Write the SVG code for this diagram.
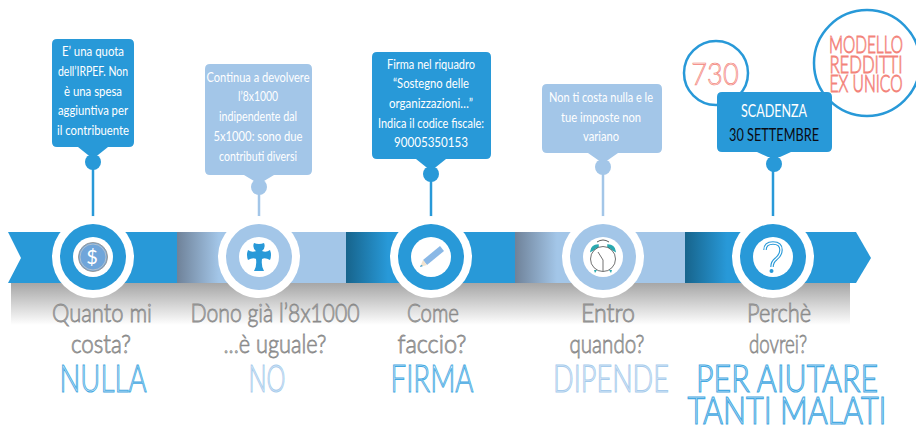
<svg xmlns="http://www.w3.org/2000/svg" width="916" height="426" viewBox="0 0 916 426">
<style>
.c{font-family:"Lato","Open Sans",sans-serif;font-size:14px;text-anchor:middle;fill:#fff}
.q{font-family:"Lato","Open Sans",sans-serif;font-size:25px;font-weight:300;text-anchor:middle;fill:#c4c4c4;stroke:#8a8a8a;stroke-width:.8}
.a{font-family:"Lato","Open Sans",sans-serif;font-size:37px;font-weight:300;text-anchor:middle;fill:#d5ecfa;stroke:#45a9e2;stroke-width:1}
.a2{font-family:"Lato","Open Sans",sans-serif;font-size:29px;font-weight:300;text-anchor:middle;fill:#d5ecfa;stroke:#45a9e2;stroke-width:.9}
.l{fill:#e6f0fa;stroke:#a6cbec}
.r{font-family:"Lato","Open Sans",sans-serif;font-weight:300;text-anchor:middle;fill:#fde3df;stroke:#f3837a;stroke-width:.7}
.o{fill:#fff}.b{fill:#2899d8}.p{fill:#a3c6e8}
</style>
<defs>
<linearGradient id="sh" x1="0" y1="0" x2="0" y2="1"><stop offset="0" stop-color="#a6a6a6"/><stop offset="1" stop-color="#fff"/></linearGradient>
<linearGradient id="gp" x1="0" y1="0" x2="1" y2="0"><stop offset="0" stop-color="#6f8299"/><stop offset=".7" stop-color="#a3c6e8"/></linearGradient>
<linearGradient id="gb" x1="0" y1="0" x2="1" y2="0"><stop offset="0" stop-color="#17648c"/><stop offset=".7" stop-color="#2899d8"/></linearGradient>
</defs>
<rect x="11" y="283" width="839" height="42" fill="url(#sh)"/>
<g id="band">
<path class="b" d="M8 232H177V283H8L21 258Z"/>
<rect x="177" y="232" width="169" height="51" class="p"/>
<rect x="177" y="232" width="60" height="51" fill="url(#gp)"/>
<rect x="346" y="232" width="169" height="51" class="b"/>
<rect x="346" y="232" width="60" height="51" fill="url(#gb)"/>
<rect x="515" y="232" width="170" height="51" class="p"/>
<rect x="515" y="232" width="60" height="51" fill="url(#gp)"/>
<path class="b" d="M685 232H856L871 258L856 283H685Z"/>
<rect x="685" y="232" width="60" height="51" fill="url(#gb)"/>
</g>
<g id="connectors" stroke-width="2.5" fill="none">
<path d="M93 162V225" stroke="#2899d8"/>
<path d="M259 187V225" stroke="#a3c6e8"/>
<path d="M431 174V225" stroke="#2899d8"/>
<path d="M603 167V225" stroke="#a3c6e8"/>
<path d="M773 164V225" stroke="#2899d8"/>
</g>
<g id="badge-730"><circle cx="716" cy="73" r="32" fill="#fff" stroke="#2899d8" stroke-width="2.5"/><text class="r" transform="translate(715 85) scale(.85 1)" font-size="32">730</text></g>
<g id="badge-modello"><circle cx="867" cy="63" r="53" fill="#fff" stroke="#2899d8" stroke-width="2.5"/>
<text class="r" transform="translate(866 53) scale(1 1.35)" font-size="17" textLength="74" lengthAdjust="spacingAndGlyphs">MODELLO</text>
<text class="r" transform="translate(866 73) scale(1 1.35)" font-size="17" textLength="73" lengthAdjust="spacingAndGlyphs">REDDITTI</text>
<text class="r" transform="translate(866 92) scale(1 1.35)" font-size="17" textLength="73" lengthAdjust="spacingAndGlyphs">EX UNICO</text></g>
<g id="node-1">
<path class="b" d="M57 39H129Q134 39 134 44V142Q134 147 129 147H108L98 155H88L78 147H57Q52 147 52 142V44Q52 39 57 39Z"/><circle class="b" cx="93" cy="162" r="8"/>
<text class="c" x="93" y="56" textLength="62" lengthAdjust="spacingAndGlyphs">E’ una quota</text>
<text class="c" x="93" y="76" textLength="70" lengthAdjust="spacingAndGlyphs">dell’IRPEF. Non</text>
<text class="c" x="93" y="96" textLength="58" lengthAdjust="spacingAndGlyphs">è una spesa</text>
<text class="c" x="93" y="115" textLength="70" lengthAdjust="spacingAndGlyphs">aggiuntiva per</text>
<text class="c" x="93" y="135" textLength="72" lengthAdjust="spacingAndGlyphs">il contribuente</text>
<circle cx="93" cy="257" r="41" class="o"/><circle cx="93" cy="257" r="33" class="b"/><circle cx="93" cy="257" r="20" class="o"/>
<circle cx="93" cy="257" r="14.500" fill="#6fa5da" stroke="#999"/><circle cx="93" cy="257" r="13" fill="none" stroke="#ccc" stroke-width=".7"/>
<text x="92" y="264" font-family="Lato,sans-serif" font-size="20" text-anchor="middle" fill="#fff">$</text>
</g>
<g id="node-2">
<path class="p" d="M210 64H307Q312 64 312 69V170Q312 175 307 175H274L264 181H254L244 175H210Q205 175 205 170V69Q205 64 210 64Z"/><circle class="p" cx="259" cy="187" r="8"/>
<text class="c" x="258" y="82" textLength="103" lengthAdjust="spacingAndGlyphs">Continua a devolvere</text>
<text class="c" x="258" y="101" textLength="40" lengthAdjust="spacingAndGlyphs">l’8x1000</text>
<text class="c" x="258" y="121" textLength="78" lengthAdjust="spacingAndGlyphs">indipendente dal</text>
<text class="c" x="258" y="141" textLength="89" lengthAdjust="spacingAndGlyphs">5x1000: sono due</text>
<text class="c" x="258" y="161" textLength="78" lengthAdjust="spacingAndGlyphs">contributi diversi</text>
<circle cx="259" cy="257" r="41" class="o"/><circle cx="259" cy="257" r="33" class="p"/><circle cx="259" cy="257" r="20" class="o"/>
<path class="b" d="M254 243Q259 245 264 243Q266 248 262 251Q266 253 270 250Q272 255 270 260Q265 257 262 259Q261 266 264 271H254Q257 266 256 259Q253 257 248 260Q246 255 248 250Q252 253 256 251Q252 248 254 243Z"/>
</g>
<g id="node-3">
<path class="b" d="M377 52H486Q491 52 491 57V154Q491 159 486 159H446L436 167H426L416 159H377Q372 159 372 154V57Q372 52 377 52Z"/><circle class="b" cx="431" cy="174" r="8"/>
<text class="c" x="431" y="69" textLength="88" lengthAdjust="spacingAndGlyphs">Firma nel riquadro</text>
<text class="c" x="431" y="88" textLength="76" lengthAdjust="spacingAndGlyphs">“Sostegno delle</text>
<text class="c" x="431" y="108" textLength="84" lengthAdjust="spacingAndGlyphs">organizzazioni…”</text>
<text class="c" x="431" y="128" textLength="106" lengthAdjust="spacingAndGlyphs">Indica il codice fiscale:</text>
<text class="c" x="431" y="147" textLength="74" lengthAdjust="spacingAndGlyphs">90005350153</text>
<circle cx="431" cy="257" r="41" class="o"/><circle cx="431" cy="257" r="33" class="b"/><circle cx="431" cy="257" r="20" class="o"/>
<path fill="#8ab8e6" d="M440 246L444 251L427 265L423 260Z"/><path fill="#f1e3cf" d="M423 260L427 265L420 267Z"/><path fill="#2899d8" d="M421 265L420 267L423 266Z"/>
</g>
<g id="node-4">
<path class="p" d="M547 84H657Q662 84 662 89V148Q662 153 657 153H618L608 160H598L588 153H547Q542 153 542 148V89Q542 84 547 84Z"/><circle class="p" cx="603" cy="167" r="8"/>
<text class="c" x="601" y="102" textLength="104" lengthAdjust="spacingAndGlyphs">Non ti costa nulla e le</text>
<text class="c" x="601" y="122" textLength="80" lengthAdjust="spacingAndGlyphs">tue imposte non</text>
<text class="c" x="601" y="141" textLength="36" lengthAdjust="spacingAndGlyphs">variano</text>
<circle cx="603" cy="257" r="41" class="o"/><circle cx="603" cy="257" r="33" class="p"/><circle cx="603" cy="257" r="20" class="o"/>
<path d="M597 242Q603 238 609 242" fill="none" stroke="#333" stroke-width=".8"/>
<path fill="#2aa9b0" d="M591 251Q592 245 598 245L598 247ZM615 251Q614 245 608 245L608 247Z" stroke="#2aa9b0" stroke-width="1.500"/>
<path fill="#2aa9b0" d="M594 270h3l-2 3zM612 270h-3l2 3z"/>
<g stroke="#333" fill="none" stroke-width=".7"><circle cx="603" cy="259" r="12.500" fill="#fff"/><path d="M603 260L598 252M603 260L603 271"/></g>
</g>
<g id="node-5">
<path class="b" d="M722 92H827Q832 92 832 97V147Q832 152 827 152H791L780 157H768L757 152H722Q717 152 717 147V97Q717 92 722 92Z"/><circle class="b" cx="774" cy="164" r="8"/>
<text class="c" x="774" y="117" textLength="66" lengthAdjust="spacingAndGlyphs" style="font-size:18px">SCADENZA</text>
<text x="774" y="141" font-family="Lato,sans-serif" style="font-size:17px" text-anchor="middle" fill="#0b0b12" textLength="90" lengthAdjust="spacingAndGlyphs">30 SETTEMBRE</text>
<circle cx="773" cy="257" r="41" class="o"/><circle cx="773" cy="257" r="33" class="b"/><circle cx="773" cy="257" r="20" class="o"/>
<path d="M765 250Q765 243 773 243Q781 243 781 250Q781 255 776 259Q772 262 772 267" fill="none" stroke="#2899d8" stroke-width="3.500"/>
<path d="M765 250Q765 243 773 243Q781 243 781 250Q781 255 776 259Q772 262 772 267" fill="none" stroke="#fff" stroke-width="1.300"/>
<circle class="b" cx="771.500" cy="271" r="2"/>
</g>
<g id="labels">
<text class="q" x="102" y="322" textLength="100" lengthAdjust="spacingAndGlyphs">Quanto mi</text>
<text class="q" x="101" y="353" textLength="60" lengthAdjust="spacingAndGlyphs">costa?</text>
<text class="a" x="103" y="392" textLength="87" lengthAdjust="spacingAndGlyphs">NULLA</text>
<text class="q" x="275" y="322" textLength="169" lengthAdjust="spacingAndGlyphs">Dono già l’8x1000</text>
<text class="q" x="275" y="353" textLength="103" lengthAdjust="spacingAndGlyphs">...è uguale?</text>
<text class="a l" x="267" y="392" textLength="37" lengthAdjust="spacingAndGlyphs">NO</text>
<text class="q" x="433" y="322" textLength="52" lengthAdjust="spacingAndGlyphs">Come</text>
<text class="q" x="432" y="353" textLength="69" lengthAdjust="spacingAndGlyphs">faccio?</text>
<text class="a" x="432" y="392" textLength="83" lengthAdjust="spacingAndGlyphs">FIRMA</text>
<text class="q" x="608" y="322" textLength="54" lengthAdjust="spacingAndGlyphs">Entro</text>
<text class="q" x="607" y="353" textLength="75" lengthAdjust="spacingAndGlyphs">quando?</text>
<text class="a l" x="611" y="392" textLength="116" lengthAdjust="spacingAndGlyphs">DIPENDE</text>
<text class="q" x="779" y="322" textLength="64" lengthAdjust="spacingAndGlyphs">Perchè</text>
<text class="q" x="778" y="353" textLength="58" lengthAdjust="spacingAndGlyphs">dovrei?</text>
<text class="a2" transform="translate(787 392) scale(1 1.27)" textLength="182" lengthAdjust="spacingAndGlyphs">PER AIUTARE</text>
<text class="a2" transform="translate(787 424) scale(1 1.27)" textLength="199" lengthAdjust="spacingAndGlyphs">TANTI MALATI</text>
</g>
</svg>
